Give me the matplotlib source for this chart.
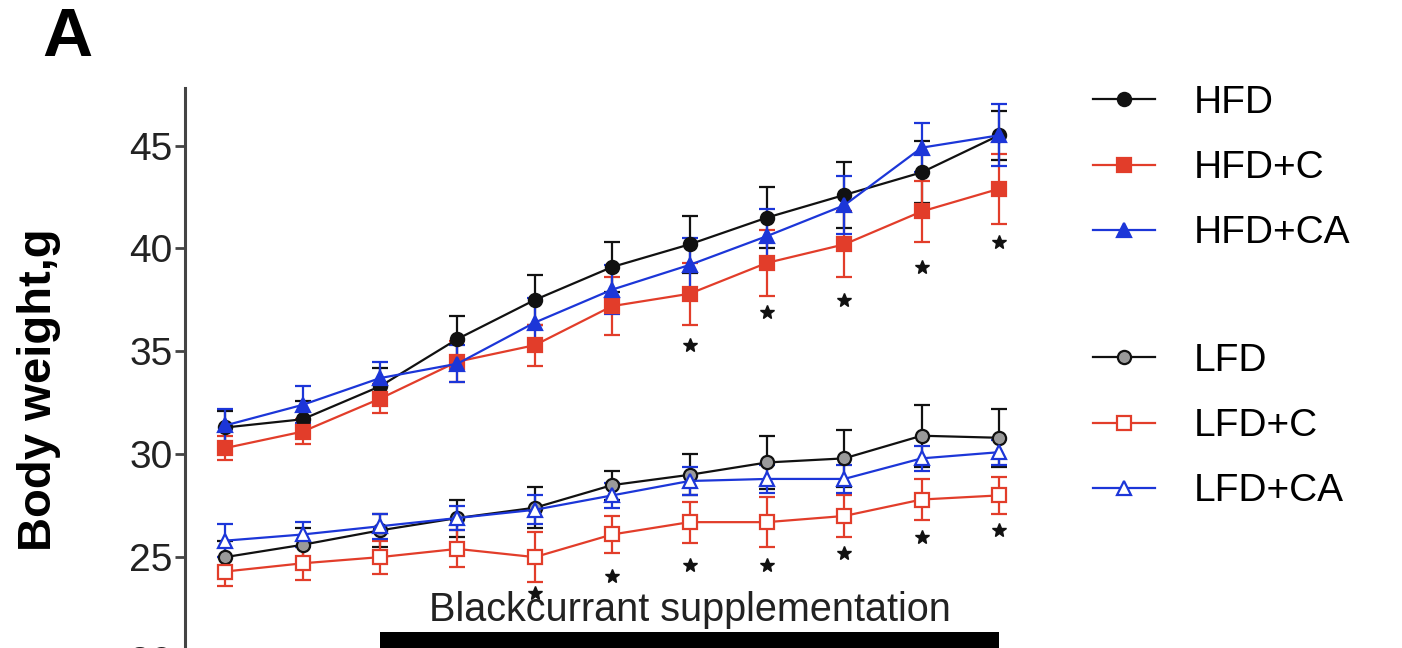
import numpy as np
import matplotlib
matplotlib.use("Agg")
import matplotlib.pyplot as plt
from matplotlib.lines import Line2D

plt.rcParams['font.family'] = ['Liberation Sans', 'DejaVu Sans']

# weeks of the study (x positions, one per measurement)
weeks = np.arange(11)

hfd = [31.3, 31.7, 33.3, 35.6, 37.5, 39.1, 40.2, 41.5, 42.6, 43.7, 45.5]
hfd_err = [0.8, 0.9, 0.9, 1.1, 1.2, 1.2, 1.4, 1.5, 1.6, 1.5, 1.2]
hfd_c = [30.3, 31.1, 32.7, 34.5, 35.3, 37.2, 37.8, 39.3, 40.2, 41.8, 42.9]
hfd_c_err = [0.6, 0.6, 0.7, 1.0, 1.0, 1.4, 1.5, 1.6, 1.6, 1.5, 1.7]
hfd_ca = [31.4, 32.4, 33.7, 34.4, 36.4, 38.0, 39.2, 40.6, 42.1, 44.9, 45.5]
hfd_ca_err = [0.8, 0.9, 0.8, 0.9, 1.2, 1.2, 1.3, 1.3, 1.4, 1.2, 1.5]

lfd = [25.0, 25.6, 26.3, 26.9, 27.4, 28.5, 29.0, 29.6, 29.8, 30.9, 30.8]
lfd_err = [0.8, 0.8, 0.8, 0.9, 1.0, 0.7, 1.0, 1.3, 1.4, 1.5, 1.4]
lfd_c = [24.3, 24.7, 25.0, 25.4, 25.0, 26.1, 26.7, 26.7, 27.0, 27.8, 28.0]
lfd_c_err = [0.7, 0.8, 0.8, 0.9, 1.2, 0.9, 1.0, 1.2, 1.0, 1.0, 0.9]
lfd_ca = [25.8, 26.1, 26.5, 26.9, 27.3, 28.0, 28.7, 28.8, 28.8, 29.8, 30.1]
lfd_ca_err = [0.8, 0.6, 0.6, 0.6, 0.7, 0.6, 0.7, 0.7, 0.7, 0.6, 0.6]

# significance stars
hfd_star_x = [6, 7, 8, 9, 10]
hfd_star_y = [35.3, 36.9, 37.5, 39.1, 40.3]
lfd_star_x = [4, 5, 6, 7, 8, 9, 10]
lfd_star_y = [23.25, 24.1, 24.6, 24.6, 25.2, 26.0, 26.3]

supp_start, supp_end = 2, 10
yticks = [20, 25, 30, 35, 40, 45]

BLACK = '#111111'
RED = '#e23d2a'
BLUE = '#1c36d8'

fig = plt.figure(figsize=(14.02, 6.48), dpi=100)
ax = fig.add_axes([185 / 1402, -12 / 648, 845 / 1402, 572 / 648])

series = [
    ('HFD', hfd, hfd_err, BLACK, 'o', BLACK, 9.5),
    ('HFD+C', hfd_c, hfd_c_err, RED, 's', RED, 9.5),
    ('HFD+CA', hfd_ca, hfd_ca_err, BLUE, '^', BLUE, 10),
    ('LFD', lfd, lfd_err, BLACK, 'o', '#9a9a9a', 9.5),
    ('LFD+C', lfd_c, lfd_c_err, RED, 's', 'white', 10),
    ('LFD+CA', lfd_ca, lfd_ca_err, BLUE, '^', 'white', 10),
]

handles = []
for label, vals, err, col, mk, fc, ms in series:
    ax.errorbar(weeks, vals, yerr=err, color=col, lw=1.6, marker=mk,
                ms=ms, mfc=fc, mec=col, mew=1.6, capsize=6, elinewidth=1.6,
                capthick=1.6, clip_on=False)
    handles.append(Line2D([0], [0], color=col, lw=1.6, marker=mk, ms=ms,
                          mfc=fc, mec=col, mew=1.6))

ax.plot(hfd_star_x, hfd_star_y, ls='none', marker='*', ms=10, color=BLACK)
ax.plot(lfd_star_x, lfd_star_y, ls='none', marker='*', ms=10, color=BLACK)

# supplementation bar
ax.fill_between([supp_start, supp_end], 20.3, 21.35, color='black', lw=0, clip_on=False)
ax.text((supp_start + supp_end) / 2, 21.5, 'Blackcurrant supplementation',
        ha='center', va='bottom', fontsize=28.5, color='#222222')

ax.set_xlim(-0.52, 10.4)
ax.set_ylim(20, 47.8)
ax.set_yticks(yticks)
ax.set_yticklabels([str(t) for t in yticks], fontsize=28, color='#222222')
ax.tick_params(axis='y', length=7, width=2, color='#444444', pad=2)
ax.set_xticks([])
for side in ['top', 'right', 'bottom']:
    ax.spines[side].set_visible(False)
ax.spines['left'].set_linewidth(2.2)
ax.spines['left'].set_color('#444444')
ax.set_ylabel('Body weight,g', fontsize=34, fontweight='bold')
ax.yaxis.set_label_coords(-0.147, 0.472)

fig.text(42 / 1402, 1 - 38 / 648, 'A', fontsize=50, fontweight='bold', va='center', ha='left')

leg_kw = dict(frameon=False, fontsize=28, handlelength=1.6, handletextpad=1.0,
              labelspacing=0.75, borderpad=0, borderaxespad=0)
fig.legend(handles[:3], [s[0] for s in series[:3]], loc='upper left',
           bbox_to_anchor=(1093 / 1402, 1 - 85 / 648), **leg_kw)
fig.legend(handles[3:], [s[0] for s in series[3:]], loc='upper left',
           bbox_to_anchor=(1093 / 1402, 1 - 343 / 648), **leg_kw)

fig.savefig('out.png', dpi=100)
